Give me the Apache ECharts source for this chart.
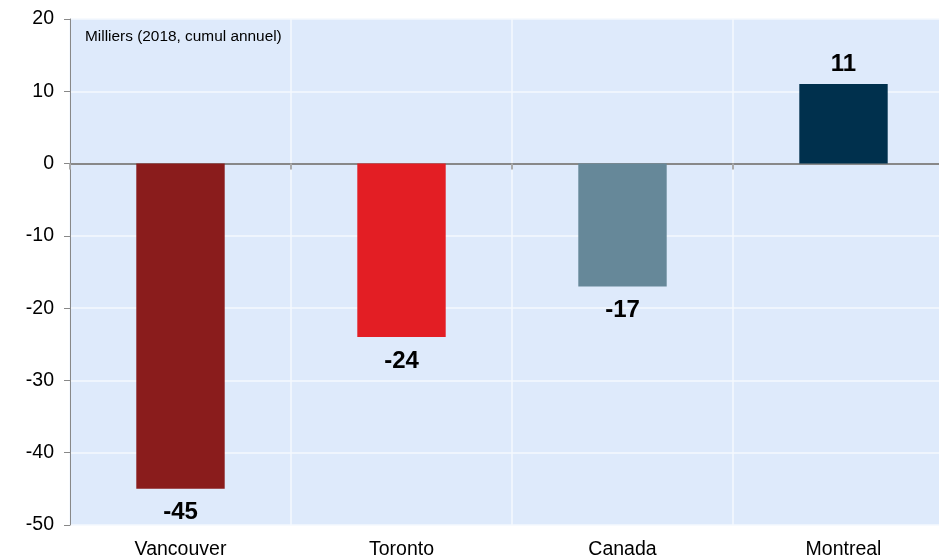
<!DOCTYPE html>
<html>
<head>
<meta charset="utf-8">
<script src="https://cdn.jsdelivr.net/npm/echarts@6/dist/echarts.min.js"></script>
<style>
  html, body { margin: 0; padding: 0; background: #fff; }
  #main { width: 939px; height: 556px; }
</style>
</head>
<body>
<div id="main"></div>
<script>
const categories = ['Vancouver', 'Toronto', 'Canada', 'Montreal']
const values = [-45, -24, -17, 11]
const barColors = ['#8a1c1c', '#e31e24', '#668899', '#00304d']
const note = 'Milliers (2018, cumul annuel)'

const myChart = echarts.init(document.getElementById('main'))

const option = {
  animation: false,
  textStyle: { fontFamily: 'Liberation Sans, Arial, sans-serif' },
  graphic: [
    {
      type: 'text',
      left: 85,
      top: 29,
      style: { text: note, fontSize: 15.4, fill: '#000', fontFamily: 'Liberation Sans, Arial, sans-serif' },
    },
  ],
  grid: {
    left: 70,
    width: 884, // plot runs past the right edge of the picture
    top: 19,
    bottom: 31,
    outerBoundsMode: 'none',
    containLabel: false,
    show: true,
    backgroundColor: '#deeafb',
    borderWidth: 0,
  },
  xAxis: [
    {
      // labels at the bottom
      type: 'category',
      data: categories,
      position: 'bottom',
      axisLine: { show: false, onZero: false },
      axisTick: { show: false },
      axisLabel: { color: '#000', fontSize: 19.5, margin: 15 },
      splitLine: { show: true, lineStyle: { color: '#f4f8fe', width: 1.5 } },
    },
    {
      // zero line with ticks
      type: 'category',
      data: categories,
      position: 'bottom',
      axisLine: { show: true, onZero: true, lineStyle: { color: '#888888', width: 2 } },
      axisTick: { show: true, inside: false, length: 6, lineStyle: { color: '#aaaaaa', width: 2 } },
      axisLabel: { show: false },
      splitLine: { show: false },
    },
  ],
  yAxis: {
    type: 'value',
    min: -50,
    max: 20,
    interval: 10,
    axisLine: { show: true, lineStyle: { color: '#888888', width: 1 } },
    axisTick: { show: true, length: 6, lineStyle: { color: '#888888' } },
    axisLabel: { color: '#000', fontSize: 19.5, margin: 16 },
    splitLine: { show: true, lineStyle: { color: '#f4f8fe', width: 1.5 } },
  },
  series: [
    {
      type: 'bar',
      xAxisIndex: 0,
      barWidth: '40%',
      data: values.map((v, i) => ({
        value: v,
        itemStyle: { color: barColors[i] },
        label: {
          show: true,
          position: v < 0 ? 'bottom' : 'top',
          distance: v < 0 ? 12 : 8,
          fontSize: 24,
          fontWeight: 'bold',
          color: '#000',
        },
      })),
    },
  ],
}

myChart.setOption(option)
</script>
</body>
</html>
